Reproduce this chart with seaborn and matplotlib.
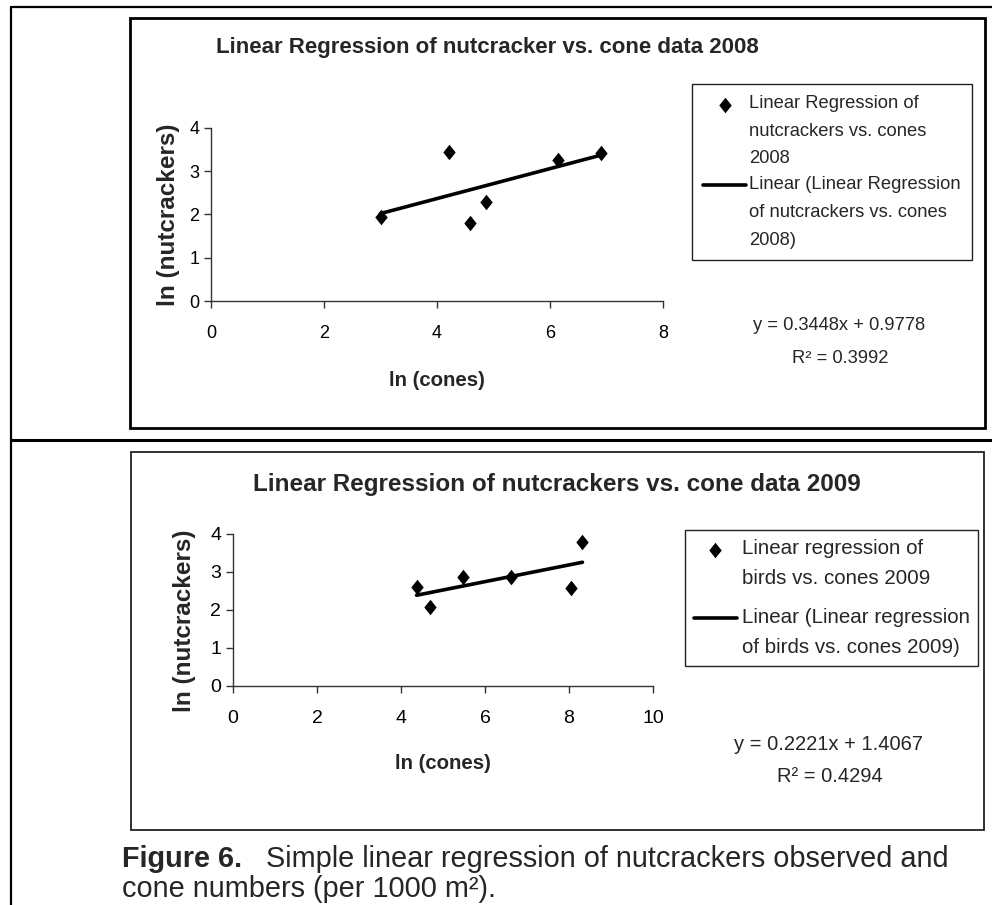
import matplotlib
matplotlib.use("Agg")
import matplotlib.pyplot as plt
import seaborn as sns
import numpy as np
import pandas as pd
from matplotlib.patches import Rectangle
from matplotlib.lines import Line2D

# 2008 data
cones_2008 = [3.00, 4.22, 4.58, 4.86, 6.15, 6.91]
birds_2008 = [1.95, 3.45, 1.80, 2.30, 3.27, 3.42]
# 2009 data
cones_2009 = [4.37, 4.68, 5.48, 6.62, 8.04, 8.32]
birds_2009 = [2.60, 2.08, 2.88, 2.88, 2.59, 3.78]

titles = ["Linear Regression of nutcracker vs. cone data 2008",
          "Linear Regression of nutcrackers vs. cone data 2009"]
scatter_labels = ["Linear Regression of\nnutcrackers vs. cones\n2008",
                  "Linear regression of\nbirds vs. cones 2009"]
line_labels = ["Linear (Linear Regression\nof nutcrackers vs. cones\n2008)",
               "Linear (Linear regression\nof birds vs. cones 2009)"]
equations = ["y = 0.3448x + 0.9778", "y = 0.2221x + 1.4067"]
r_squared = ["R² = 0.3992", "R² = 0.4294"]
x_ticks = [[0, 2, 4, 6, 8], [0, 2, 4, 6, 8, 10]]
y_ticks = [0, 1, 2, 3, 4]

sns.set_style("ticks")
plt.rcParams["font.family"] = ["Liberation Sans", "DejaVu Sans"]

W, H = 992, 905
DPI = 100
fig = plt.figure(figsize=(W / DPI, H / DPI), dpi=DPI)

def fx(px):
    return px / W

def fy(py):
    return 1 - py / H

# outer table lines
for xs, ys, lw in [([11, 992], [7, 7], 1.6), ([11, 11], [7, 905], 1.6),
                   ([11, 992], [440, 440], 2.2)]:
    fig.add_artist(Line2D([fx(v) for v in xs], [fy(v) for v in ys], color="black",
                          lw=lw, transform=fig.transFigure))

# chart frames
fig.add_artist(Rectangle((fx(130), fy(428)), fx(985) - fx(130), fy(18) - fy(428),
                         fill=False, ec="black", lw=2.0, transform=fig.transFigure))
fig.add_artist(Rectangle((fx(131), fy(830)), fx(984) - fx(131), fy(452) - fy(830),
                         fill=False, ec="#222222", lw=1.3, transform=fig.transFigure))

# diamond marker, a bit taller than wide
diamond = [(0, 1), (0.8, 0), (0, -1), (-0.8, 0), (0, 1)]

# per-chart layout (pixels)
layout = [
    dict(ax=[211, 301, 452, 173], title=(487, 47, 16), ylab=(168, 215), xlab=(437, 380),
         leg=(692, 84), eq=(839, 325), r2=(840, 358), efs=13.2, fs=13, lfs=13.2,
         ls=1.82, lsp=0.5, bpad=0.6, hlen=2.35, htp=0.16, xlim=8),
    dict(ax=[233, 686, 420, 152], title=(557, 485, 17.5), ylab=(185, 621), xlab=(443, 763),
         leg=(685, 530), eq=(829, 744), r2=(830, 777), efs=14.5, fs=14, lfs=14.8,
         ls=1.75, lsp=0.98, bpad=0.42, hlen=2.1, htp=0.24, xlim=10),
]
data = [(cones_2008, birds_2008), (cones_2009, birds_2009)]
legends = []

for i, (cfg, (xs, ys)) in enumerate(zip(layout, data)):
    l, b, w, h = cfg["ax"]
    ax = fig.add_axes([fx(l), fy(b), w / W, h / H])
    df = pd.DataFrame({"cones": xs, "birds": ys})
    sns.scatterplot(data=df, x="cones", y="birds", marker=diamond, s=125, color="black",
                    edgecolor="black", linewidth=0, label=scatter_labels[i], ax=ax, zorder=3)
    sns.regplot(data=df, x="cones", y="birds", scatter=False, ci=None, color="black",
                line_kws={"lw": 2.6}, ax=ax)
    ax.lines[-1].set_label(line_labels[i])
    ax.set_xlim(0, cfg["xlim"])
    ax.set_ylim(0, 4)
    ax.set_xticks(x_ticks[i])
    ax.set_yticks(y_ticks)
    ax.set_xlabel("")
    ax.set_ylabel("")
    for side in ["top", "right"]:
        ax.spines[side].set_visible(False)
    for side in ["left", "bottom"]:
        ax.spines[side].set_color("#333333")
        ax.spines[side].set_linewidth(1.0)
    ax.tick_params(axis="both", direction="out", length=5, width=1, color="#333333",
                   labelsize=cfg["fs"], labelcolor="black")
    ax.tick_params(axis="x", pad=12)
    ax.patch.set_alpha(0)

    handles = [ax.collections[0], ax.lines[-1]]
    labels = [scatter_labels[i], line_labels[i]]
    leg = ax.legend(handles, labels,
                    loc="upper left", bbox_to_anchor=(fx(cfg["leg"][0]), fy(cfg["leg"][1])),
                    bbox_transform=fig.transFigure, frameon=True, fancybox=False,
                    edgecolor="#222222", framealpha=1, fontsize=cfg["lfs"],
                    handlelength=cfg["hlen"], handletextpad=cfg["htp"],
                    borderpad=cfg["bpad"], labelspacing=cfg["lsp"], markerscale=1.0,
                    borderaxespad=0)
    leg.get_frame().set_linewidth(1.0)
    for t in leg.get_texts():
        t.set_linespacing(cfg["ls"])
    legends.append(leg)

    tx, ty, tfs = cfg["title"]
    fig.text(fx(tx), fy(ty), titles[i], ha="center", va="center", fontsize=tfs,
             fontweight="bold")
    fig.text(fx(cfg["ylab"][0]), fy(cfg["ylab"][1]), "ln (nutcrackers)", rotation=90,
             ha="center", va="center", fontsize=17.5, fontweight="bold")
    fig.text(fx(cfg["xlab"][0]), fy(cfg["xlab"][1]), "ln (cones)", ha="center",
             va="center", fontsize=14.7, fontweight="bold")
    fig.text(fx(cfg["eq"][0]), fy(cfg["eq"][1]), equations[i], ha="center",
             va="center", fontsize=cfg["efs"])
    fig.text(fx(cfg["r2"][0]), fy(cfg["r2"][1]), r_squared[i], ha="center",
             va="center", fontsize=cfg["efs"])

# caption
CFS = 20.8
cap = fig.text(fx(122), fy(867), "Figure 6.", ha="left", va="baseline", fontsize=CFS,
               fontweight="bold")
fig.canvas.draw()
renderer = fig.canvas.get_renderer()
bb = cap.get_window_extent(renderer)
fig.text((bb.x1 + 24) / W, fy(867), "Simple linear regression of nutcrackers observed and",
         ha="left", va="baseline", fontsize=CFS)
fig.text(fx(122), fy(897), "cone numbers (per 1000 m²).", ha="left", va="baseline",
         fontsize=CFS)

# Excel puts the legend key next to the first line of each wrapped label
for leg in legends:
    for hdl, txt in zip(leg.legend_handles, leg.get_texts()):
        n = txt.get_text().count("\n") + 1
        if n < 2:
            continue
        _, lp_h, _ = renderer.get_text_width_height_descent("lp", txt.get_fontproperties(),
                                                             ismath=False)
        tb = txt.get_window_extent(renderer)
        pitch = (tb.height - lp_h) / (n - 1)
        dy = (n - 1) / 2 * pitch * 72 / DPI
        if hasattr(hdl, "get_offsets"):
            hdl.set_offsets(np.asarray(hdl.get_offsets()) + [0, dy])
        else:
            hdl.set_ydata(np.asarray(hdl.get_ydata()) + dy)

fig.savefig("out.png", dpi=DPI)
